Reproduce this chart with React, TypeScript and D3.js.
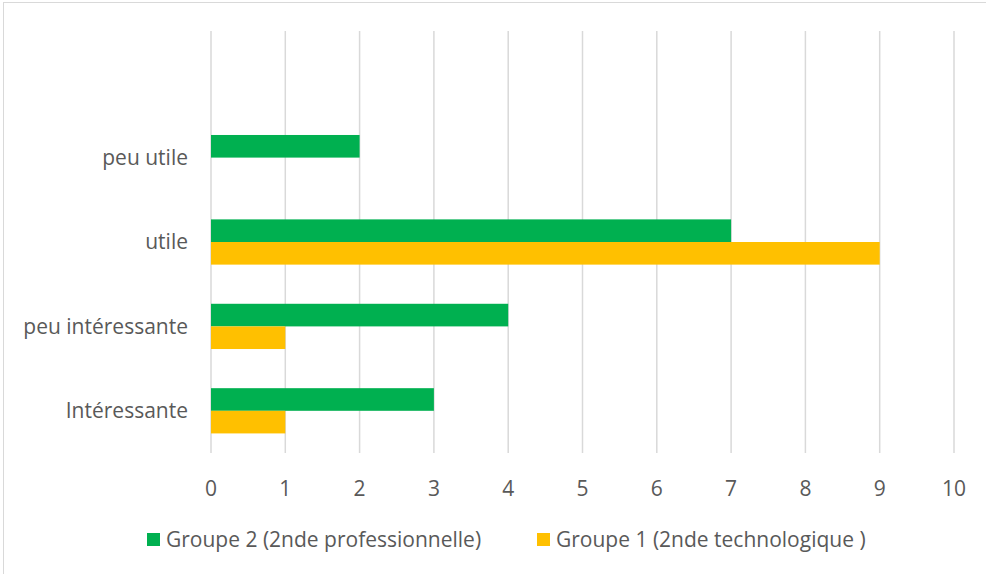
import React from "react";
import * as d3 from "d3";

const categories = ["", "peu utile", "utile", "peu intéressante", "Intéressante"];
const groupe2 = [0, 2, 7, 4, 3];
const groupe1 = [0, 0, 9, 1, 1];
const seriesNames = ["Groupe 2 (2nde professionnelle)", "Groupe 1 (2nde technologique )"];
const seriesColors = ["#00B050", "#FFC000"];
const xTicks = [0, 1, 2, 3, 4, 5, 6, 7, 8, 9, 10];

export default function App() {
  const W = 986, H = 574;
  const x = d3.scaleLinear().domain([0, 10]).range([211, 954]);
  const y = d3.scaleBand().domain(categories).range([31, 453]).paddingInner(0).paddingOuter(0);
  const bw = y.bandwidth();
  const barH = bw * 0.268;
  const series = [groupe2, groupe1];
  const font = "'Open Sans', Lato, sans-serif";
  const textColor = "#595959";
  const fs = 21;
  return (
    <svg width={W} height={H} style={{ position: "absolute", left: 0, top: 0, background: "#fff" }} fontFamily={font}>
      <rect x={3.5} y={2.5} width={W + 10} height={H + 10} fill="none" stroke="#d9d9d9" strokeWidth={1} />
      {xTicks.map((t) => (
        <line key={t} x1={x(t)} x2={x(t)} y1={31} y2={453} stroke="#d9d9d9" strokeWidth={1.5} />
      ))}
      {categories.map((c, i) => {
        const center = (y(c) as number) + bw / 2;
        return (
          <g key={i}>
            {series.map((s, k) =>
              s[i] > 0 ? (
                <rect
                  key={k}
                  x={x(0)}
                  y={center - barH + k * barH}
                  width={x(s[i]) - x(0)}
                  height={barH}
                  fill={seriesColors[k]}
                />
              ) : null
            )}
            <text x={188} y={center} dy="0.35em" textAnchor="end" fontSize={fs} fill={textColor}>
              {c}
            </text>
          </g>
        );
      })}
      {xTicks.map((t) => (
        <text key={t} x={x(t)} y={489} dy="0.35em" textAnchor="middle" fontSize={fs} fill={textColor}>
          {t}
        </text>
      ))}
      {seriesNames.map((n, k) => {
        const lx = [147, 537][k];
        return (
          <g key={k}>
            <rect x={lx} y={533} width={13} height={13} fill={seriesColors[k]} />
            <text x={lx + 19} y={540} dy="0.35em" fontSize={fs} fill={textColor}>
              {n}
            </text>
          </g>
        );
      })}
    </svg>
  );
}
